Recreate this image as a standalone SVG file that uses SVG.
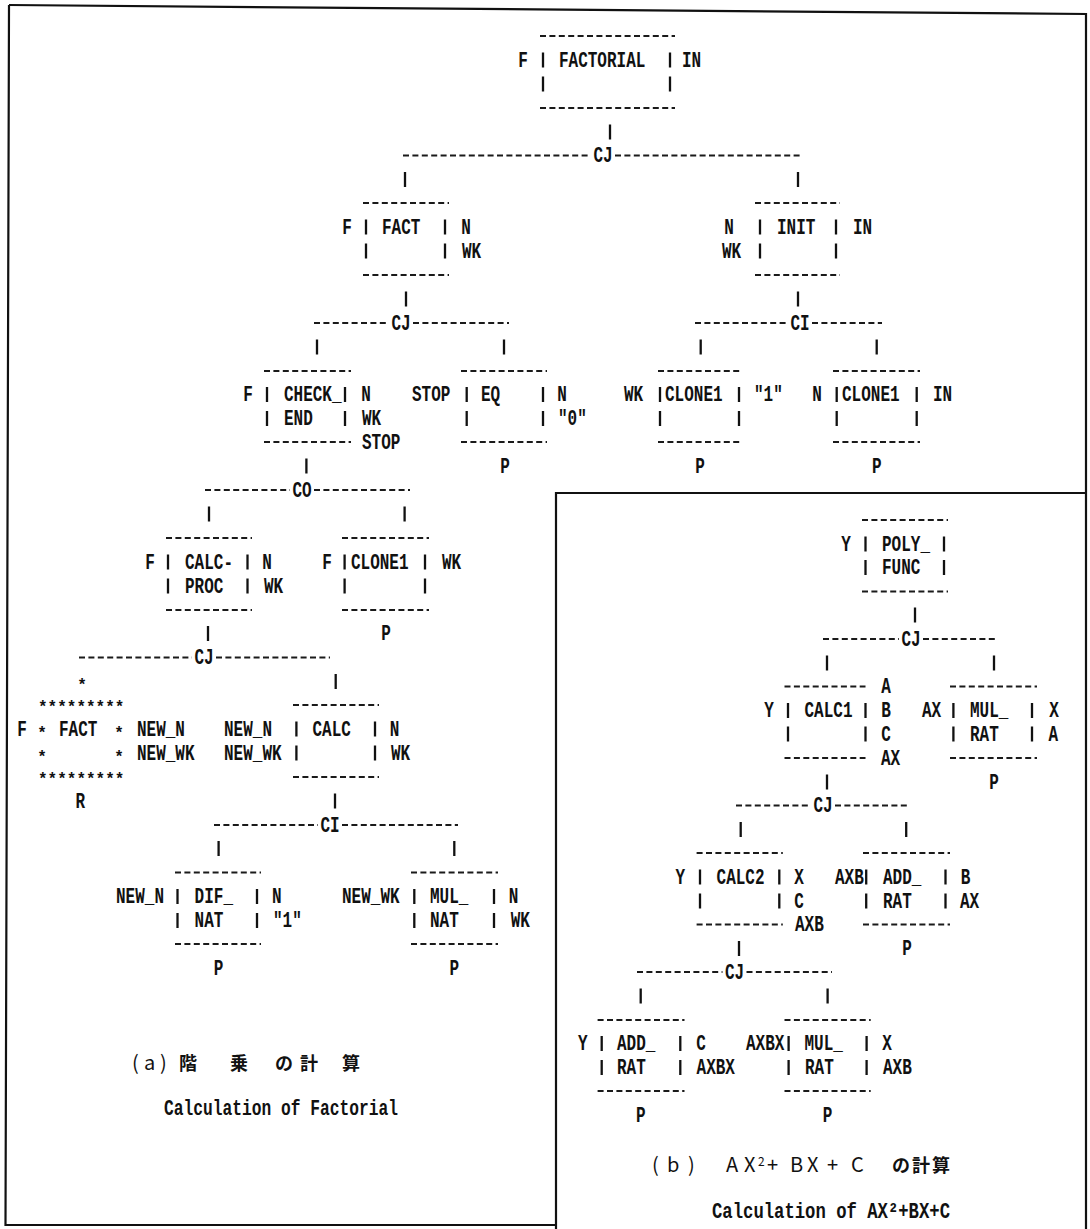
<svg xmlns="http://www.w3.org/2000/svg" xmlns:xlink="http://www.w3.org/1999/xlink" width="1090" height="1229" viewBox="0 0 1090 1229">
<style>
.frame{fill:none;stroke:#111;stroke-width:2.2}
.d{fill:none;stroke:#1a1a1a;stroke-width:1.9;stroke-dasharray:6 3.4}
.p{stroke:#111;stroke-width:2.3}
.t{font-family:"Liberation Mono","DejaVu Sans Mono",monospace;font-weight:bold;font-size:16px;fill:#111;transform-box:fill-box;transform-origin:center;transform:scaleY(1.33)}
.u{transform:none}
.m{text-anchor:middle}
.cj{font-family:"Noto Sans CJK JP","Liberation Sans",sans-serif;font-size:18px;fill:#111}
.lat{font-size:20px}
.b{font-weight:bold}
</style>
<defs>
<line id="pp" class="p" x1="0" y1="-7.5" x2="0" y2="7.5"/>
</defs>
<rect width="1090" height="1229" fill="#fff"/>
<g id="frame">
<path class="frame" d="M9 5 L1086 14 L1086 1229"/>
<path class="frame" d="M9 5 L5.5 1225 L556 1225"/>
<path class="frame" d="M556 1229 L556 493 L1086 493"/>
</g>
<g id="connectors">
<use href="#pp" x="610" y="132"/>
<line class="d" x1="403" y1="155.5" x2="591" y2="155.5"/><text class="t m" x="603" y="161">CJ</text><line class="d" x1="615" y1="155.5" x2="803" y2="155.5"/>
<use href="#pp" x="405" y="179.5"/><use href="#pp" x="798" y="179.5"/>
<use href="#pp" x="406" y="299"/>
<line class="d" x1="314" y1="323" x2="389" y2="323"/><text class="t m" x="401" y="328.5">CJ</text><line class="d" x1="413" y1="323" x2="509" y2="323"/>
<use href="#pp" x="317" y="347"/><use href="#pp" x="504" y="347"/>
<use href="#pp" x="798" y="299"/>
<line class="d" x1="695" y1="323" x2="788" y2="323"/><text class="t m" x="800" y="328.5">CI</text><line class="d" x1="812" y1="323" x2="882" y2="323"/>
<use href="#pp" x="700.7" y="347"/><use href="#pp" x="876.7" y="347"/>
<use href="#pp" x="306.4" y="466"/>
<line class="d" x1="205" y1="490" x2="290" y2="490"/><text class="t m" x="302" y="495.5">CO</text><line class="d" x1="314" y1="490" x2="410" y2="490"/>
<use href="#pp" x="209" y="514"/><use href="#pp" x="404.6" y="514"/>
<use href="#pp" x="208" y="633.5"/>
<line class="d" x1="79" y1="657.5" x2="192" y2="657.5"/><text class="t m" x="204" y="663">CJ</text><line class="d" x1="216" y1="657.5" x2="330" y2="657.5"/>
<text class="t u m" x="82" y="690">*</text><use href="#pp" x="335.7" y="681.5"/>
<use href="#pp" x="335" y="801"/>
<line class="d" x1="214" y1="825" x2="318" y2="825"/><text class="t m" x="330" y="830.5">CI</text><line class="d" x1="342" y1="825" x2="458" y2="825"/>
<use href="#pp" x="218.6" y="848.5"/><use href="#pp" x="454.3" y="848.5"/>
<use href="#pp" x="915" y="615"/>
<line class="d" x1="823" y1="639" x2="899" y2="639"/><text class="t m" x="911" y="644.5">CJ</text><line class="d" x1="923" y1="639" x2="998" y2="639"/>
<use href="#pp" x="827" y="663"/><use href="#pp" x="994" y="663"/>
<use href="#pp" x="827" y="782"/>
<line class="d" x1="736" y1="805.5" x2="811" y2="805.5"/><text class="t m" x="823" y="811">CJ</text><line class="d" x1="835" y1="805.5" x2="910" y2="805.5"/>
<use href="#pp" x="740.7" y="829.5"/><use href="#pp" x="906.2" y="829.5"/>
<use href="#pp" x="739" y="948.5"/>
<line class="d" x1="637" y1="972" x2="722.5" y2="972"/><text class="t m" x="734.5" y="977.5">CJ</text><line class="d" x1="746.5" y1="972" x2="832" y2="972"/>
<use href="#pp" x="640.7" y="996"/><use href="#pp" x="827.6" y="996"/>
</g>
<g id="node-factorial">
<line class="d" x1="540" y1="36" x2="675" y2="36"/>
<text class="t m" x="523" y="65.5">F</text><use href="#pp" x="543" y="60"/><text class="t" x="559" y="65.5">FACTORIAL</text><use href="#pp" x="670" y="60"/><text class="t" x="682" y="65.5">IN</text>
<use href="#pp" x="543" y="84"/><use href="#pp" x="670" y="84"/>
<line class="d" x1="540" y1="108" x2="675" y2="108"/>
</g>
<g id="node-fact">
<line class="d" x1="363" y1="203" x2="449" y2="203"/>
<text class="t m" x="347" y="232.5">F</text><use href="#pp" x="366" y="227"/><text class="t" x="382" y="232.5">FACT</text><use href="#pp" x="445" y="227"/><text class="t m" x="466" y="232.5">N</text>
<use href="#pp" x="366" y="251"/><use href="#pp" x="445" y="251"/><text class="t" x="462" y="256.5">WK</text>
<line class="d" x1="363" y1="275" x2="449" y2="275"/>
</g>
<g id="node-init">
<line class="d" x1="755" y1="203" x2="840" y2="203"/>
<text class="t m" x="729" y="232.5">N</text><use href="#pp" x="760" y="227"/><text class="t" x="777" y="232.5">INIT</text><use href="#pp" x="836" y="227"/><text class="t" x="853" y="232.5">IN</text>
<text class="t" x="722" y="256.5">WK</text><use href="#pp" x="760" y="251"/><use href="#pp" x="836" y="251"/>
<line class="d" x1="755" y1="275" x2="840" y2="275"/>
</g>
<g id="node-check-end">
<line class="d" x1="264" y1="371" x2="351" y2="371"/>
<text class="t m" x="248" y="400">F</text><use href="#pp" x="267" y="394.5"/><text class="t" x="284" y="400">CHECK_</text><use href="#pp" x="345" y="394.5"/><text class="t m" x="366" y="400">N</text>
<use href="#pp" x="267" y="418.5"/><text class="t" x="284" y="424">END</text><use href="#pp" x="345" y="418.5"/><text class="t" x="362" y="424">WK</text>
<line class="d" x1="264" y1="442" x2="351" y2="442"/><text class="t" x="362" y="447.5">STOP</text>
</g>
<g id="node-eq">
<line class="d" x1="461" y1="371" x2="547" y2="371"/>
<text class="t" x="412" y="400">STOP</text><use href="#pp" x="466.7" y="394.5"/><text class="t" x="481" y="400">EQ</text><use href="#pp" x="543" y="394.5"/><text class="t m" x="562" y="400">N</text>
<use href="#pp" x="466.7" y="418.5"/><use href="#pp" x="543" y="418.5"/><text class="t" x="558" y="424">"0"</text>
<line class="d" x1="461" y1="442" x2="547" y2="442"/>
<text class="t m" x="505" y="471.5">P</text>
</g>
<g id="node-clone1-wk">
<line class="d" x1="658" y1="371" x2="742" y2="371"/>
<text class="t" x="624" y="400">WK</text><use href="#pp" x="660" y="394.5"/><text class="t" x="665" y="400">CLONE1</text><use href="#pp" x="739" y="394.5"/><text class="t" x="754" y="400">"1"</text>
<use href="#pp" x="660" y="418.5"/><use href="#pp" x="739" y="418.5"/>
<line class="d" x1="658" y1="442" x2="742" y2="442"/>
<text class="t m" x="700" y="471.5">P</text>
</g>
<g id="node-clone1-n">
<line class="d" x1="833" y1="371" x2="920" y2="371"/>
<text class="t m" x="817" y="400">N</text><use href="#pp" x="836.7" y="394.5"/><text class="t" x="842" y="400">CLONE1</text><use href="#pp" x="916.7" y="394.5"/><text class="t" x="933" y="400">IN</text>
<use href="#pp" x="836.7" y="418.5"/><use href="#pp" x="916.7" y="418.5"/>
<line class="d" x1="833" y1="442" x2="920" y2="442"/>
<text class="t m" x="876.7" y="471.5">P</text>
</g>
<g id="node-calc-proc">
<line class="d" x1="166" y1="538" x2="252" y2="538"/>
<text class="t m" x="150" y="567.5">F</text><use href="#pp" x="168" y="562"/><text class="t" x="185" y="567.5">CALC-</text><use href="#pp" x="247.5" y="562"/><text class="t m" x="267" y="567.5">N</text>
<use href="#pp" x="168" y="586"/><text class="t" x="185" y="591.5">PROC</text><use href="#pp" x="247.5" y="586"/><text class="t" x="264" y="591.5">WK</text>
<line class="d" x1="166" y1="610" x2="252" y2="610"/>
</g>
<g id="node-clone1-f">
<line class="d" x1="342" y1="538" x2="429" y2="538"/>
<text class="t m" x="327" y="567.5">F</text><use href="#pp" x="344.6" y="562"/><text class="t" x="351" y="567.5">CLONE1</text><use href="#pp" x="425" y="562"/><text class="t" x="442" y="567.5">WK</text>
<use href="#pp" x="344.6" y="586"/><use href="#pp" x="425" y="586"/>
<line class="d" x1="342" y1="610" x2="429" y2="610"/>
<text class="t m" x="386" y="639">P</text>
</g>
<g id="node-fact-recursive">
<text class="t u" x="38" y="712">*********</text>
<text class="t m" x="22" y="734.5">F</text><text class="t u m" x="42" y="737.5">*</text><text class="t" x="59" y="734.5">FACT</text><text class="t u m" x="119" y="737.5">*</text><text class="t" x="137" y="734.5">NEW_N</text>
<text class="t u m" x="42" y="761.5">*</text><text class="t u m" x="119" y="761.5">*</text><text class="t" x="137" y="758.5">NEW_WK</text>
<text class="t u" x="38" y="784">*********</text>
<text class="t m" x="80.4" y="807">R</text>
</g>
<g id="node-calc">
<line class="d" x1="293" y1="705" x2="379" y2="705"/>
<text class="t" x="224" y="734.5">NEW_N</text><use href="#pp" x="296.4" y="729"/><text class="t" x="312.5" y="734.5">CALC</text><use href="#pp" x="375" y="729"/><text class="t m" x="394.6" y="734.5">N</text>
<text class="t" x="224" y="758.5">NEW_WK</text><use href="#pp" x="296.4" y="753"/><use href="#pp" x="375" y="753"/><text class="t" x="391" y="758.5">WK</text>
<line class="d" x1="293" y1="777" x2="379" y2="777"/>
</g>
<g id="node-dif-nat">
<line class="d" x1="175" y1="872.5" x2="261" y2="872.5"/>
<text class="t" x="116" y="902">NEW_N</text><use href="#pp" x="177.5" y="896.5"/><text class="t" x="194.6" y="902">DIF_</text><use href="#pp" x="257" y="896.5"/><text class="t m" x="276.8" y="902">N</text>
<use href="#pp" x="177.5" y="920.5"/><text class="t" x="194.6" y="926">NAT</text><use href="#pp" x="257" y="920.5"/><text class="t" x="273" y="926">"1"</text>
<line class="d" x1="175" y1="944" x2="261" y2="944"/>
<text class="t m" x="218.6" y="973.5">P</text>
</g>
<g id="node-mul-nat">
<line class="d" x1="411" y1="872.5" x2="498" y2="872.5"/>
<text class="t" x="342" y="902">NEW_WK</text><use href="#pp" x="414.3" y="896.5"/><text class="t" x="430" y="902">MUL_</text><use href="#pp" x="494" y="896.5"/><text class="t m" x="513.6" y="902">N</text>
<use href="#pp" x="414.3" y="920.5"/><text class="t" x="430" y="926">NAT</text><use href="#pp" x="494" y="920.5"/><text class="t" x="510.7" y="926">WK</text>
<line class="d" x1="411" y1="944" x2="498" y2="944"/>
<text class="t m" x="454.3" y="973.5">P</text>
</g>
<g id="caption-a">
<text class="cj" y="1070"><tspan class="lat" x="132">(</tspan><tspan class="lat" x="144">a</tspan><tspan class="lat" x="160">)</tspan><tspan class="b" x="179">階</tspan> <tspan class="b" x="230">乗</tspan> <tspan class="b" x="275">の</tspan> <tspan class="b" x="300">計</tspan> <tspan class="b" x="342">算</tspan></text>
<text class="t" x="164" y="1113.5" textLength="234" lengthAdjust="spacingAndGlyphs">Calculation of Factorial</text>
</g>
<g id="node-poly-func">
<line class="d" x1="862" y1="520" x2="948" y2="520"/>
<text class="t m" x="846" y="549.5">Y</text><use href="#pp" x="865.5" y="544"/><text class="t" x="882" y="549.5">POLY_</text><use href="#pp" x="944" y="544"/>
<use href="#pp" x="865.5" y="567.5"/><text class="t" x="882" y="573">FUNC</text><use href="#pp" x="944" y="567.5"/>
<line class="d" x1="862" y1="591.5" x2="948" y2="591.5"/>
</g>
<g id="node-calc1">
<line class="d" x1="784.5" y1="686.5" x2="865.5" y2="686.5"/><text class="t m" x="886" y="692">A</text>
<text class="t m" x="769" y="716">Y</text><use href="#pp" x="788" y="710.5"/><text class="t" x="804.5" y="716">CALC1</text><use href="#pp" x="865.5" y="710.5"/><text class="t m" x="886" y="716">B</text>
<use href="#pp" x="788" y="734"/><use href="#pp" x="865.5" y="734"/><text class="t m" x="886" y="739.5">C</text>
<line class="d" x1="784.5" y1="758" x2="865.5" y2="758"/><text class="t" x="881" y="763.5">AX</text>
</g>
<g id="node-mul-rat-1">
<line class="d" x1="950" y1="686.5" x2="1037" y2="686.5"/>
<text class="t" x="922" y="716">AX</text><use href="#pp" x="953.4" y="710.5"/><text class="t" x="970" y="716">MUL_</text><use href="#pp" x="1032" y="710.5"/><text class="t m" x="1054" y="716">X</text>
<use href="#pp" x="953.4" y="734"/><text class="t" x="970" y="739.5">RAT</text><use href="#pp" x="1032" y="734"/><text class="t m" x="1053.4" y="739.5">A</text>
<line class="d" x1="950" y1="758" x2="1037" y2="758"/>
<text class="t m" x="994" y="787.5">P</text>
</g>
<g id="node-calc2">
<line class="d" x1="696.6" y1="853" x2="782.8" y2="853"/>
<text class="t m" x="680.3" y="882.5">Y</text><use href="#pp" x="700" y="877"/><text class="t" x="716.6" y="882.5">CALC2</text><use href="#pp" x="779.3" y="877"/><text class="t m" x="799" y="882.5">X</text>
<use href="#pp" x="700" y="901"/><use href="#pp" x="779.3" y="901"/><text class="t m" x="799" y="906.5">C</text>
<line class="d" x1="696.6" y1="924.5" x2="782.8" y2="924.5"/><text class="t" x="795" y="930">AXB</text>
</g>
<g id="node-add-rat-1">
<line class="d" x1="863" y1="853" x2="950" y2="853"/>
<text class="t" x="835" y="882.5">AXB</text><use href="#pp" x="866.2" y="877"/><text class="t" x="883" y="882.5">ADD_</text><use href="#pp" x="945.5" y="877"/><text class="t m" x="965.5" y="882.5">B</text>
<use href="#pp" x="866.2" y="901"/><text class="t" x="883" y="906.5">RAT</text><use href="#pp" x="945.5" y="901"/><text class="t" x="960" y="906.5">AX</text>
<line class="d" x1="863" y1="924.5" x2="950" y2="924.5"/>
<text class="t m" x="907" y="954">P</text>
</g>
<g id="node-add-rat-2">
<line class="d" x1="597.6" y1="1020" x2="684.5" y2="1020"/>
<text class="t m" x="582.8" y="1049">Y</text><use href="#pp" x="601.7" y="1043.5"/><text class="t" x="617" y="1049">ADD_</text><use href="#pp" x="680.3" y="1043.5"/><text class="t m" x="701" y="1049">C</text>
<use href="#pp" x="601.7" y="1067.5"/><text class="t" x="617" y="1073">RAT</text><use href="#pp" x="680.3" y="1067.5"/><text class="t" x="696.6" y="1073">AXBX</text>
<line class="d" x1="597.6" y1="1091" x2="684.5" y2="1091"/>
<text class="t m" x="640.7" y="1120.5">P</text>
</g>
<g id="node-mul-rat-2">
<line class="d" x1="784.5" y1="1020" x2="870.7" y2="1020"/>
<text class="t" x="746" y="1049">AXBX</text><use href="#pp" x="788.6" y="1043.5"/><text class="t" x="804.5" y="1049">MUL_</text><use href="#pp" x="866.6" y="1043.5"/><text class="t m" x="887" y="1049">X</text>
<use href="#pp" x="788.6" y="1067.5"/><text class="t" x="805" y="1073">RAT</text><use href="#pp" x="866.6" y="1067.5"/><text class="t" x="883" y="1073">AXB</text>
<line class="d" x1="784.5" y1="1091" x2="870.7" y2="1091"/>
<text class="t m" x="827.6" y="1120.5">P</text>
</g>
<g id="caption-b">
<text class="cj" y="1172"><tspan class="lat" x="652">(</tspan><tspan class="lat" x="667">b</tspan><tspan class="lat" x="688">)</tspan> <tspan class="lat" x="726">A</tspan><tspan class="lat" x="744">X</tspan><tspan x="758" font-size="12" dy="-6">2</tspan><tspan class="lat" x="767" dy="6">+</tspan><tspan class="lat" x="790">B</tspan><tspan class="lat" x="807">X</tspan><tspan class="lat" x="827">+</tspan><tspan class="lat" x="851">C</tspan> <tspan class="b" x="892">の</tspan><tspan class="b" x="912">計</tspan><tspan class="b" x="932">算</tspan></text>
<text class="t" x="712" y="1216.5" textLength="238" lengthAdjust="spacingAndGlyphs">Calculation of AX²+BX+C</text>
</g>
</svg>
